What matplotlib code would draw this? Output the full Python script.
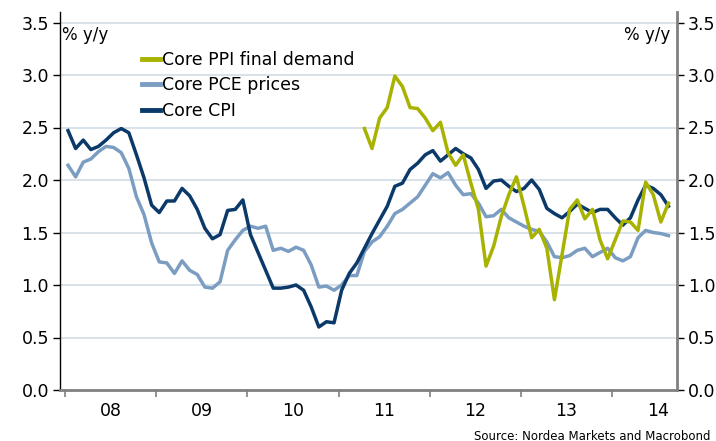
import numpy as np
import matplotlib
matplotlib.use('Agg')
import matplotlib.pyplot as plt
from matplotlib.ticker import FixedLocator, NullFormatter, FixedFormatter

# monthly values, Jan 2008 - Aug 2014
core_cpi = [2.47, 2.30, 2.38, 2.29, 2.32, 2.38, 2.45, 2.49, 2.45, 2.24, 2.02, 1.76,
            1.69, 1.80, 1.80, 1.92, 1.85, 1.72, 1.54, 1.44, 1.48, 1.71, 1.72, 1.81,
            1.48, 1.31, 1.14, 0.97, 0.97, 0.98, 1.00, 0.95, 0.79, 0.60, 0.65, 0.64,
            0.95, 1.11, 1.21, 1.35, 1.49, 1.62, 1.75, 1.94, 1.97, 2.10, 2.16, 2.24,
            2.28, 2.18, 2.24, 2.30, 2.25, 2.21, 2.10, 1.92, 1.99, 2.00, 1.94, 1.89,
            1.92, 2.00, 1.91, 1.73, 1.68, 1.64, 1.70, 1.77, 1.73, 1.69, 1.72, 1.72,
            1.64, 1.57, 1.64, 1.81, 1.95, 1.92, 1.86, 1.75]

core_pce = [2.14, 2.03, 2.17, 2.20, 2.27, 2.32, 2.31, 2.26, 2.11, 1.84, 1.67, 1.40,
            1.22, 1.21, 1.11, 1.23, 1.14, 1.10, 0.98, 0.97, 1.03, 1.33, 1.43, 1.52,
            1.56, 1.54, 1.56, 1.33, 1.35, 1.32, 1.36, 1.33, 1.19, 0.98, 0.99, 0.95,
            1.00, 1.09, 1.09, 1.32, 1.41, 1.46, 1.56, 1.68, 1.72, 1.78, 1.84, 1.95,
            2.06, 2.02, 2.07, 1.95, 1.86, 1.87, 1.78, 1.65, 1.66, 1.72, 1.64, 1.60,
            1.56, 1.53, 1.51, 1.41, 1.27, 1.26, 1.28, 1.33, 1.35, 1.27, 1.31, 1.35,
            1.26, 1.23, 1.27, 1.45, 1.52, 1.50, 1.49, 1.47]

# starts Apr 2011
ppi_start = 39
core_ppi = [2.49, 2.30, 2.59, 2.69, 2.99, 2.89, 2.69, 2.68, 2.59,
            2.47, 2.55, 2.26, 2.14, 2.24, 1.97, 1.72, 1.18, 1.37, 1.65, 1.86, 2.03,
            1.75, 1.45, 1.53, 1.35, 0.86, 1.29, 1.72, 1.81, 1.63, 1.72, 1.43, 1.25,
            1.43, 1.61, 1.60, 1.52, 1.98, 1.86, 1.60, 1.78]

years = [2008, 2009, 2010, 2011, 2012, 2013, 2014]
year_labels = ['08', '09', '10', '11', '12', '13', '14']

navy = '#0b3a6a'
steel = '#7c9dc2'
olive = '#a8b200'
grid_col = '#d3dde5'
spine_gray = '#808080'

x = 2008 + (np.arange(len(core_cpi)) + 0.4) / 12.0
x_ppi = x[ppi_start:ppi_start + len(core_ppi)]

fig = plt.figure(figsize=(7.16, 4.41), dpi=100)
ax = fig.add_axes([60 / 716, 51 / 441, 617 / 716, 378 / 441])

for v in np.arange(0.5, 3.51, 0.5):
    ax.axhline(v, color=grid_col, lw=1.2, zorder=0)

l_pce, = ax.plot(x, core_pce, color=steel, lw=2.5, label='Core PCE prices', zorder=2)
l_cpi, = ax.plot(x, core_cpi, color=navy, lw=2.5, label='Core CPI', zorder=3)
l_ppi, = ax.plot(x_ppi, core_ppi, color=olive, lw=2.5, label='Core PPI final demand', zorder=4)

ax.set_xlim(2008 - 5 / 91.2, 2008 + 612 / 91.2)
ax.set_ylim(0, 3.6)

ax.set_yticks(np.arange(0, 3.51, 0.5))
ax.set_yticklabels(['%.1f' % v for v in np.arange(0, 3.51, 0.5)])
ax.tick_params(axis='y', which='major', direction='out', length=5, width=1,
               labelsize=12.5, left=True, right=True, labelleft=True, labelright=True,
               colors='black', pad=3)

ax.xaxis.set_major_locator(FixedLocator(years))
ax.xaxis.set_major_formatter(NullFormatter())
ax.xaxis.set_minor_locator(FixedLocator([y + 0.5 for y in years]))
ax.xaxis.set_minor_formatter(FixedFormatter(year_labels))
ax.tick_params(axis='x', which='major', direction='out', length=5, width=1.2, color=spine_gray)
ax.tick_params(axis='x', which='minor', length=0, labelsize=12.5, pad=9)

ax.spines['top'].set_visible(False)
ax.spines['left'].set_color('black')
ax.spines['left'].set_linewidth(1.0)
ax.spines['right'].set_color(spine_gray)
ax.spines['right'].set_linewidth(2.0)
ax.spines['bottom'].set_color(spine_gray)
ax.spines['bottom'].set_linewidth(2.0)

fig.text(62 / 716, 1 - 35 / 441, '% y/y', fontsize=12, va='center', ha='left')
fig.text(670 / 716, 1 - 35 / 441, '% y/y', fontsize=12, va='center', ha='right')

leg = ax.legend(handles=[l_ppi, l_pce, l_cpi], loc='upper left',
                bbox_to_anchor=(142 / 716, 1 - 51 / 441), bbox_transform=fig.transFigure,
                frameon=False, fontsize=12.5, handlelength=1.05, handletextpad=0.1,
                labelspacing=0.42, borderpad=0, borderaxespad=0)
for h in leg.get_lines():
    h.set_linewidth(3.5)

fig.text(710 / 716, 1 - 436 / 441, 'Source: Nordea Markets and Macrobond',
         fontsize=8.5, ha='right', va='center')

fig.savefig('out.png', dpi=100)
